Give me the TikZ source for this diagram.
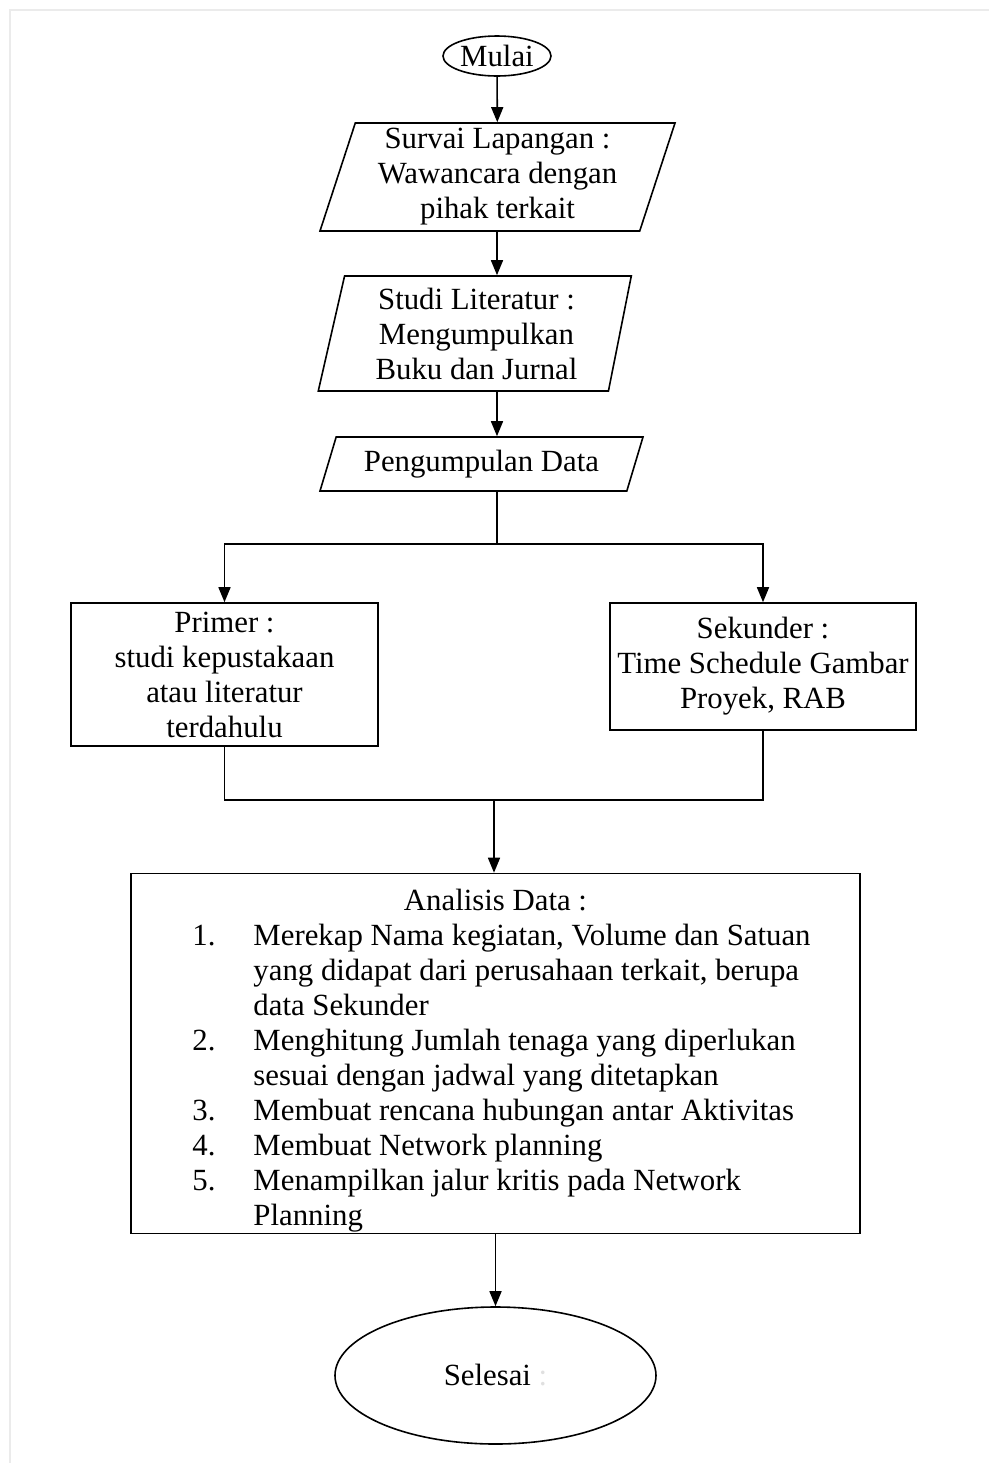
\documentclass[tikz,border=0pt]{standalone}
\usepackage{fontspec}
\setmainfont{Liberation Serif}
\usetikzlibrary{shapes.geometric,arrows.meta}
\begin{document}
\begin{tikzpicture}[x=0.5pt,y=-0.5pt,line width=0.8pt,font=\fontsize{15.4}{17.5}\selectfont]
\tikzstyle{terminal}=[ellipse,draw,inner sep=0pt]
\tikzstyle{datain}=[trapezium,trapezium stretches body,draw,align=center,inner xsep=4pt,inner ysep=0pt]
\tikzstyle{proses}=[rectangle,draw,align=center,inner sep=0pt]
\tikzstyle{edge}=[draw,-{Triangle[length=7.5pt,width=6pt]}]
\useasboundingbox (0,0) rectangle (989,1463);
\draw[black!8] (10,1463) -- (10,10) -- (989,10);
    \node[terminal,minimum width=54pt,minimum height=20pt] (mulai) at (497,56) {Mulai};
    \node[datain,trapezium left angle=70,trapezium right angle=110,minimum width=177.5pt,minimum height=54pt] (survai) at (497.5,177) {Survai Lapangan :\\Wawancara dengan\\pihak terkait};
    \node[datain,trapezium left angle=74,trapezium right angle=104,minimum width=156.5pt,minimum height=57.5pt] (studi) at (476.5,333.5) {Studi Literatur :\\Mengumpulkan\\Buku dan Jurnal};
    \node[datain,trapezium left angle=60,trapezium right angle=120,minimum width=161.5pt,minimum height=27pt] (data) at (481.5,464) {Pengumpulan Data};
    \node[proses,minimum width=153.5pt,minimum height=71.5pt] (primer) at (224.5,674.5) {Primer :\\studi kepustakaan\\atau literatur\\terdahulu};
    \node[proses,minimum width=153pt,minimum height=63.5pt] (sekunder) at (763,666.5) {Sekunder :\\Time Schedule Gambar\\Proyek, RAB};
    \node[proses,minimum width=364.5pt,minimum height=180pt] (analisis) at (495.5,1053.5) {%
      \begin{tabular}{@{\hspace{6pt}}p{30.5pt}@{}l@{}}
      \noalign{\vspace{4pt}}
      \multicolumn{2}{@{}c@{}}{Analisis Data :}\\
      1. & Merekap Nama kegiatan, Volume dan Satuan\\
         & yang didapat dari perusahaan terkait, berupa\\
         & data Sekunder\\
      2. & Menghitung Jumlah tenaga yang diperlukan\\
         & sesuai dengan jadwal yang ditetapkan\\
      3. & Membuat rencana hubungan antar Aktivitas\\
      4. & Membuat Network planning\\
      5. & Menampilkan jalur kritis pada Network\\
         & Planning\\[-3pt]
      \end{tabular}};
    \node[terminal,minimum width=160.5pt,minimum height=68.5pt] (selesai) at (495.5,1375.5) {Selesai {\color{black!12}:}};
    \coordinate (cabang) at (497,544);
    \coordinate (gabung) at (494,800);
    \path (mulai) edge [edge] (survai);
    \draw[edge] (survai.south -| mulai) -- (studi.north -| mulai);
    \draw[edge] (studi.south -| mulai) -- (data.north -| mulai);
    \draw (data.south -| cabang) -- (cabang);
    \draw[edge] (cabang) -| (primer);
    \draw[edge] (cabang) -| (sekunder);
    \draw (primer) |- (gabung) -| (sekunder);
    \draw[edge] (gabung) -- (gabung |- analisis.north);
    \path (analisis.south -| selesai) edge [edge] (selesai);
\end{tikzpicture}
\end{document}
